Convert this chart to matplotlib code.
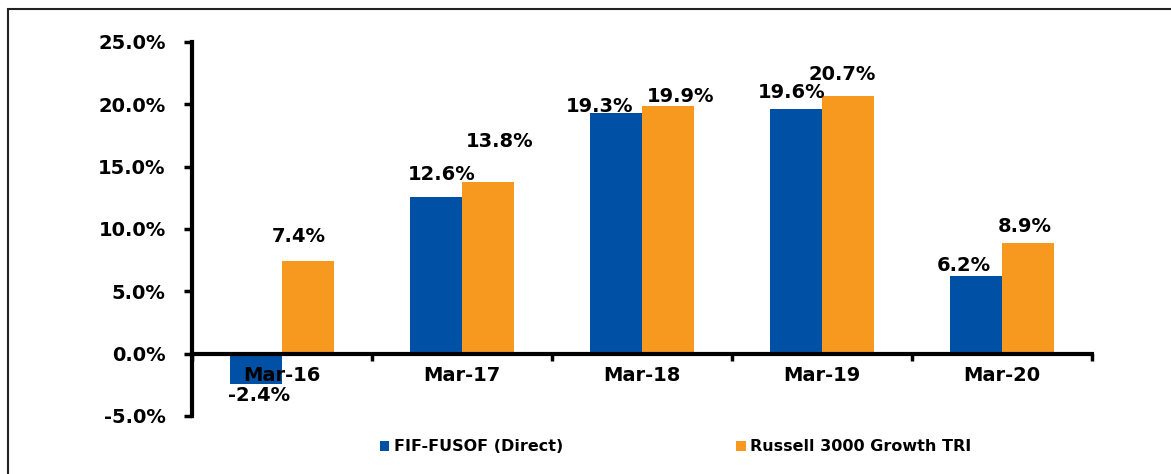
import matplotlib.pyplot as plt
from matplotlib.patches import Rectangle
import numpy as np

# data
years = ['Mar-16', 'Mar-17', 'Mar-18', 'Mar-19', 'Mar-20']
fund = [-2.4, 12.6, 19.3, 19.6, 6.2]
bench = [7.4, 13.8, 19.9, 20.7, 8.9]
series_names = ['FIF-FUSOF (Direct)', 'Russell 3000 Growth TRI']

# hand placed label offsets in pixels (dx, dy from bar end to label centre),
# the original excel chart has them dragged around by hand
fund_off = [(3, -12), (6, 22), (-16, 7), (-4, 17), (-12, 11)]
bench_off = [(-9, 25), (12, 40), (12, 9), (-6, 21), (-3, 16)]

blue = '#0051A5'
orange = '#F7981F'
px = 72 / 100  # pixel -> points at dpi 100

plt.rcParams['font.family'] = ['DejaVu Sans']
plt.rcParams['font.weight'] = 'bold'

fig = plt.figure(figsize=(11.71, 4.74), dpi=100)
ax = fig.add_axes([0.164, 0.1224, 0.7685, 0.789])

x = np.arange(len(years))
w = 0.29
ax.bar(x - w / 2, fund, w, color=blue, label=series_names[0])
ax.bar(x + w / 2, bench, w, color=orange, label=series_names[1])

for i in range(len(years)):
    dx, dy = fund_off[i]
    ax.annotate('%.1f%%' % fund[i], (x[i] - w / 2, fund[i]), xytext=(dx * px, dy * px),
                textcoords='offset points', ha='center', va='center',
                fontsize=14, fontweight='bold')
    dx, dy = bench_off[i]
    ax.annotate('%.1f%%' % bench[i], (x[i] + w / 2, bench[i]), xytext=(dx * px, dy * px),
                textcoords='offset points', ha='center', va='center',
                fontsize=14, fontweight='bold')

ax.set_xlim(-0.5, len(years) - 0.5)
ax.set_ylim(-5, 25)
ax.set_yticks(np.arange(-5, 26, 5))
ax.set_yticklabels(['%.1f%%' % v for v in np.arange(-5, 26, 5)], fontsize=14, fontweight='bold')

# category labels sit just under the zero line, ticks between categories
ax.set_xticks(np.arange(-0.5, len(years), 1))
ax.set_xticklabels([])
ax.tick_params(axis='x', direction='out', length=5, width=2.5)
ax.tick_params(axis='y', direction='out', length=6, width=2.5, pad=13)
for i, lab in enumerate(years):
    ax.annotate(lab, (x[i], 0), xytext=(0, -9), textcoords='offset points',
                ha='center', va='top', fontsize=14, fontweight='bold')

ax.spines['top'].set_visible(False)
ax.spines['right'].set_visible(False)
ax.spines['left'].set_linewidth(3)
ax.spines['bottom'].set_position(('data', 0))
ax.spines['bottom'].set_linewidth(3)

fig.legend(loc='center', bbox_to_anchor=(0.577, 0.057), ncol=2, frameon=False,
           handlelength=0.6, handleheight=0.6, handletextpad=0.3, columnspacing=10.8,
           prop={'size': 11.5, 'weight': 'bold'})

# outer frame (cut off on the right and bottom in the original)
fig.patches.append(Rectangle((8 / 1171, -0.1), 1.2, (474 - 9) / 474 + 0.1,
                             transform=fig.transFigure, fill=False,
                             edgecolor='#222222', linewidth=1.5))

fig.savefig('out.png', dpi=100)
